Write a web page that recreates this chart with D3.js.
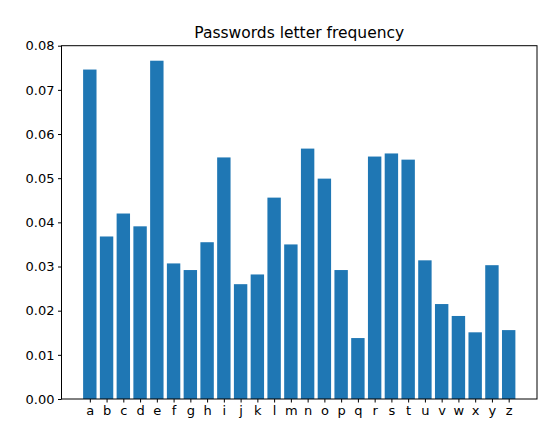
<!DOCTYPE html>
<html><head><meta charset="utf-8">
<script src="https://cdn.jsdelivr.net/npm/d3@7"></script>
<style>body{margin:0;background:#fff}text{font-family:"DejaVu Sans",sans-serif}</style>
</head><body><svg id="c" width="560" height="444"></svg>
<script>
var letters = "abcdefghijklmnopqrstuvwxyz".split("");
var freqs = [0.0746, 0.0368, 0.0420, 0.0391, 0.0766, 0.0307, 0.0292, 0.0355, 0.0547, 0.0260,
  0.0282, 0.0456, 0.0350, 0.0567, 0.0499, 0.0292, 0.0138, 0.0549, 0.0556, 0.0542,
  0.0314, 0.0215, 0.0188, 0.0151, 0.0303, 0.0156];
var yTicks = [0, 0.01, 0.02, 0.03, 0.04, 0.05, 0.06, 0.07, 0.08];

var svg = d3.select("#c");
var L = 61.5, R = 537, T = 45.7, B = 399;
var x = d3.scaleLinear().domain([-1.69, 26.69]).range([L, R]);
var y = d3.scaleLinear().domain([0, 0.08]).range([B, T]);

svg.append("g").selectAll("rect").data(freqs).join("rect")
  .attr("x", function (d, i) { return x(i - 0.4); })
  .attr("width", x(0.8) - x(0))
  .attr("y", function (d) { return y(d); })
  .attr("height", function (d) { return B - y(d); })
  .attr("fill", "#1f77b4");

svg.append("g").attr("transform", "translate(" + L + ",0)")
  .call(d3.axisLeft(y).tickValues(yTicks).tickFormat(d3.format(".2f")).tickSizeOuter(0).tickSize(3.5).tickPadding(3.5))
  .call(function (g) { g.select(".domain").remove(); g.selectAll("text").attr("font-size", 13).attr("fill", "#000"); });

svg.append("g").attr("transform", "translate(0," + B + ")")
  .call(d3.axisBottom(x).tickValues(d3.range(26)).tickFormat(function (i) { return letters[i]; }).tickSizeOuter(0).tickSize(3.5).tickPadding(3.5))
  .call(function (g) { g.select(".domain").remove(); g.selectAll("text").attr("font-size", 13).attr("fill", "#000"); });

svg.append("rect").attr("x", L).attr("y", T).attr("width", R - L).attr("height", B - T)
  .attr("fill", "none").attr("stroke", "#000").attr("stroke-width", 1);

svg.append("text").attr("x", (L + R) / 2).attr("y", T - 8).attr("text-anchor", "middle")
  .attr("font-size", 15.5).text("Passwords letter frequency");
</script></body></html>
